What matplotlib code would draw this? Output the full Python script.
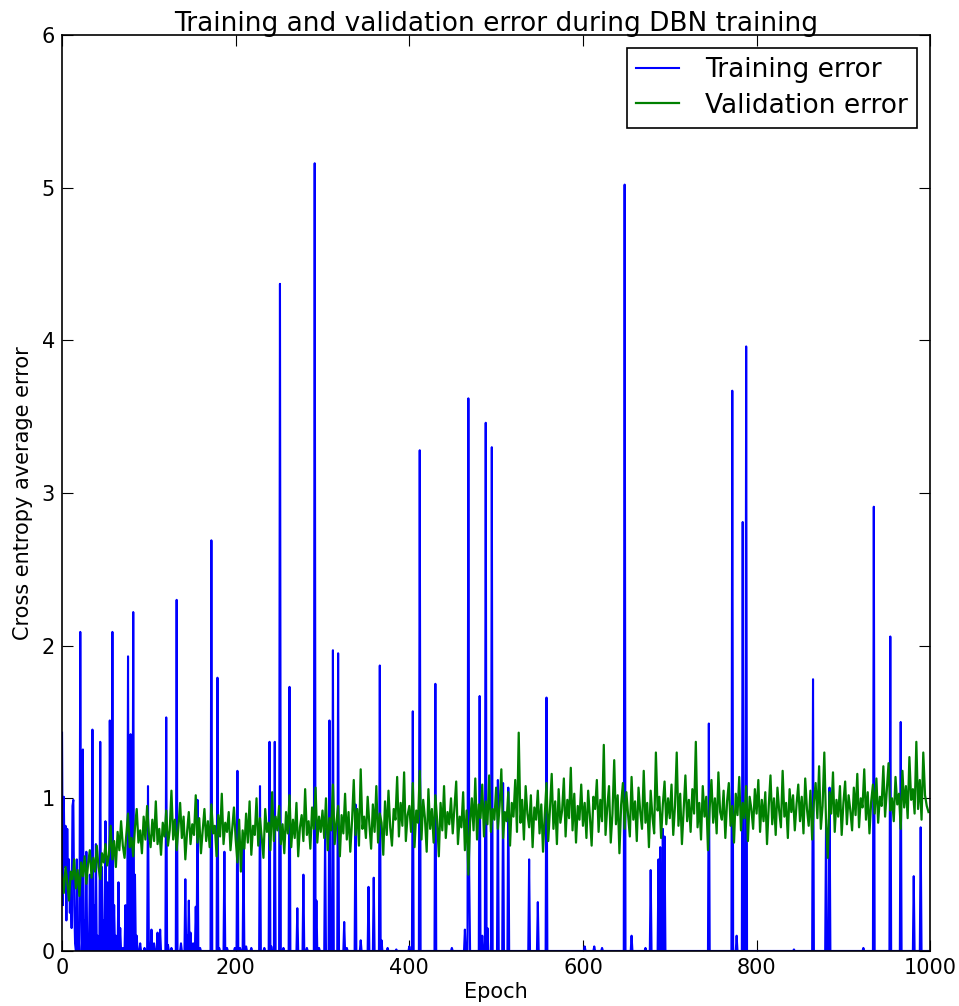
import numpy as np
import matplotlib
matplotlib.use("Agg")
import matplotlib.pyplot as plt

# epochs where the training error is non-zero, and the value there
spike_epochs = [0, 1, 2, 3, 4, 5, 6, 7, 8, 9, 10, 11, 12, 13, 14, 15,
                17, 19, 21, 22, 24, 26, 28, 30, 32, 35, 37, 39, 41, 44, 46, 48,
                50, 52, 55, 56, 58, 60, 62, 65, 67, 70, 73, 76, 79, 82, 84, 86,
                90, 95, 99, 103, 106, 110, 113, 120, 122, 126, 132, 137, 142, 144,
                146, 148, 151, 154, 156, 159, 172, 179, 181, 187, 190, 199, 202,
                205, 209, 212, 218, 228, 233, 239, 241, 245, 251, 255, 262, 271,
                278, 282, 291, 293, 296, 303, 308, 312, 318, 325, 328, 338, 344,
                353, 359, 366, 368, 375, 385, 400, 404, 412, 430, 449, 464, 468,
                469, 481, 484, 488, 490, 495, 502, 508, 514, 538, 548, 558, 602,
                613, 622, 648, 656, 672, 678, 687, 689, 692, 694, 745, 772, 777,
                784, 788, 843, 865, 880, 884, 923, 935, 954, 966, 981, 989]
spike_values = [1.43, 0.30, 1.01, 0.55, 0.82, 0.20, 0.80, 0.40, 0.60, 0.25, 0.50, 0.15, 0.95, 0.99, 0.30, 0.05,
                0.60, 0.10, 2.09, 0.40, 1.32, 0.20, 0.65, 0.05, 0.50, 1.45, 0.30, 0.70, 0.10, 1.37, 0.55, 0.20,
                0.85, 0.45, 1.51, 0.60, 2.09, 0.30, 0.10, 0.45, 0.15, 0.02, 0.30, 1.93, 1.42, 2.22, 0.50, 0.10,
                0.05, 0.02, 1.08, 0.14, 0.05, 0.12, 0.14, 1.53, 0.04, 0.02, 2.30, 0.05, 0.47, 0.10,
                0.33, 0.12, 0.05, 0.29, 0.99, 0.02, 2.69, 1.79, 0.02, 0.65, 0.02, 0.02, 1.18,
                0.02, 0.69, 0.03, 0.02, 1.08, 0.02, 1.37, 0.03, 1.37, 4.37, 0.02, 1.73, 0.28,
                0.50, 0.02, 5.16, 0.33, 0.02, 0.80, 1.51, 1.97, 1.95, 0.19, 0.02, 0.96, 0.07,
                0.42, 0.48, 1.87, 0.07, 0.02, 0.01, 0.03, 1.57, 3.28, 1.75, 0.02, 0.14, 3.62,
                0.50, 1.67, 0.10, 3.46, 0.15, 3.30, 1.12, 1.10, 1.07, 0.60, 0.32, 1.66, 0.03,
                0.03, 0.02, 5.02, 0.10, 0.02, 0.53, 0.60, 0.68, 0.80, 0.75, 1.49, 3.67, 0.10,
                2.81, 3.96, 0.01, 1.78, 0.86, 1.07, 0.02, 2.91, 2.06, 1.50, 0.49, 0.81]

# validation error read every second epoch
val_epochs = np.arange(0, 1000, 2)
val_error = [
    0.50, 0.38, 0.55, 0.45, 0.33, 0.52, 0.47, 0.60, 0.41, 0.53, 0.36, 0.58, 0.49, 0.62, 0.44, 0.57, 0.66, 0.48, 0.61, 0.52, 0.69, 0.55, 0.47, 0.64, 0.58,
    0.70, 0.56, 0.63, 0.82, 0.60, 0.72, 0.55, 0.78, 0.66, 0.85, 0.69, 0.61, 0.76, 0.90, 0.68, 0.74, 0.62, 0.81, 0.93, 0.71, 0.79, 0.64, 0.88, 0.73, 0.95,
    0.77, 0.68, 0.86, 0.72, 0.98, 0.70, 0.80, 0.63, 0.84, 0.75, 0.92, 0.69, 0.79, 1.05, 0.73, 0.86, 0.66, 0.81, 0.97, 0.74, 0.88, 0.60, 0.78, 0.91, 0.70,
    0.83, 0.76, 1.02, 0.71, 0.87, 0.64, 0.79, 0.93, 0.72, 0.85, 0.68, 0.96, 0.77, 0.82, 0.62, 0.89, 0.75, 1.03, 0.70, 0.84, 0.78, 0.91, 0.66, 0.80, 0.94,
    0.73, 0.58, 0.86, 0.52, 0.79, 0.67, 0.90, 0.71, 0.98, 0.63, 0.82, 0.76, 1.00, 0.69, 0.87, 0.74, 0.61, 0.93, 0.78, 0.84, 0.66, 1.04, 0.72, 0.88, 0.79,
    0.95, 0.70, 0.83, 0.64, 0.91, 0.77, 1.02, 0.68, 0.86, 0.74, 0.97, 0.62, 0.81, 0.89, 0.72, 1.06, 0.76, 0.85, 0.67, 0.94, 0.80, 1.07, 0.71, 0.88, 0.78,
    0.92, 0.74, 1.00, 0.66, 0.87, 0.79, 1.09, 0.70, 0.84, 0.95, 0.62, 0.89, 0.77, 1.03, 0.73, 0.91, 0.65, 0.85, 1.12, 0.76, 0.93, 0.69, 1.19, 0.80, 0.88,
    0.74, 1.01, 0.83, 0.67, 0.96, 0.78, 1.08, 0.71, 0.90, 0.84, 0.63, 0.98, 0.76, 1.05, 0.81, 0.69, 0.93, 0.86, 1.14, 0.75, 0.97, 0.82, 1.17, 0.72, 0.89,
    0.95, 0.78, 1.10, 0.68, 0.92, 0.84, 1.18, 0.73, 0.99, 0.87, 0.65, 1.06, 0.80, 0.93, 0.71, 1.02, 0.86, 0.62, 0.97, 0.79, 1.08, 0.74, 0.91, 0.83, 1.00,
    0.77, 0.94, 1.11, 0.70, 0.88, 0.81, 1.04, 0.66, 0.92, 0.50, 0.84, 1.00, 0.79, 1.13, 0.73, 0.96, 0.87, 1.09, 0.75, 0.98, 0.83, 1.15, 0.78, 0.93, 0.86,
    1.07, 0.80, 0.95, 1.19, 0.74, 0.91, 0.85, 1.04, 0.69, 0.97, 0.88, 1.12, 0.78, 1.43, 0.84, 0.99, 0.73, 1.08, 0.90, 0.81, 1.02, 0.68, 0.94, 0.86, 1.05,
    0.77, 0.96, 0.65, 0.89, 1.10, 0.72, 0.93, 1.16, 0.80, 0.98, 0.70, 1.06, 0.84, 0.92, 1.13, 0.75, 0.99, 0.87, 1.20, 0.79, 1.03, 0.71, 0.95, 0.86, 1.09,
    0.82, 0.97, 0.74, 1.05, 0.88, 0.69, 1.01, 0.93, 1.12, 0.78, 0.99, 0.85, 1.35, 0.76, 0.94, 1.08, 0.71, 0.90, 1.25, 0.83, 1.02, 0.64, 0.96, 1.10, 0.80,
    1.04, 0.89, 0.75, 1.14, 0.86, 0.98, 0.72, 1.07, 0.91, 0.80, 1.18, 0.84, 0.97, 0.68, 1.05, 0.88, 0.77, 1.30, 0.92, 1.01, 0.74, 0.96, 1.11, 0.83, 1.00,
    0.87, 1.09, 0.76, 0.95, 1.30, 0.82, 1.03, 0.70, 0.93, 1.15, 0.85, 0.99, 0.78, 1.06, 0.90, 1.37, 0.81, 0.97, 0.73, 1.08, 0.88, 1.01, 0.66, 0.94, 1.12,
    0.84, 1.00, 0.77, 1.17, 0.91, 0.86, 1.05, 0.74, 0.98, 1.10, 0.82, 0.95, 0.71, 1.03, 0.89, 1.14, 0.79, 0.97, 0.87, 1.08, 0.72, 1.01, 0.93, 0.80, 1.06,
    0.90, 1.12, 0.78, 0.99, 0.85, 1.04, 0.70, 0.95, 1.15, 0.83, 1.00, 0.76, 1.07, 0.92, 0.81, 1.18, 0.88, 0.97, 0.74, 1.06, 0.91, 1.02, 0.79, 0.96, 1.09,
    0.85, 1.01, 0.77, 1.13, 0.93, 0.82, 1.05, 0.73, 0.98, 1.10, 0.87, 1.21, 0.80, 0.95, 1.30, 0.84, 0.61, 1.04, 0.90, 1.17, 0.78, 0.99, 0.88, 1.08, 0.76,
    0.97, 1.11, 0.83, 1.02, 0.92, 0.79, 1.07, 0.89, 1.16, 0.81, 1.00, 0.94, 1.19, 0.86, 1.04, 0.77, 0.98, 1.09, 0.90, 1.13, 0.84, 1.01, 0.95, 1.21, 0.88,
    1.06, 1.23, 0.92, 1.00, 0.85, 1.14, 0.96, 1.03, 0.80, 1.18, 0.94, 1.08, 0.87, 1.27, 0.99, 1.06, 0.90, 1.37, 0.93, 1.12, 0.86, 1.30, 1.02, 0.95, 0.91,
]

epochs = np.arange(1000)
train_error = np.zeros(1000)
train_error[spike_epochs] = spike_values

fig = plt.figure(figsize=(9.59, 10.06), dpi=100)
ax = fig.add_axes([0.0647, 0.0547, 0.9053, 0.9105])

ax.plot(epochs, train_error, color=(0, 0, 1), lw=1.5, label="Training error")
ax.plot(val_epochs, val_error, color=(0, 0.5, 0), lw=1.6, label="Validation error")

ax.set_xlim(0, 1000)
ax.set_ylim(0, 6)
ax.set_xticks(np.arange(0, 1001, 200))
ax.set_yticks(np.arange(0, 7, 1))
ax.tick_params(direction="in", top=True, right=True, length=8, labelsize=15, pad=5)
for s in ax.spines.values():
    s.set_linewidth(1.2)

ax.set_title("Training and validation error during DBN training", fontsize=19, pad=3)
ax.set_xlabel("Epoch", fontsize=15, labelpad=3)
ax.set_ylabel("Cross entropy average error", fontsize=15, labelpad=6)

leg = ax.legend(loc="upper right", fontsize=19, fancybox=False, framealpha=1,
                edgecolor="black", borderaxespad=0.5, handlelength=1.6,
                handletextpad=1.0, labelspacing=0.35, borderpad=0.35)
leg.get_frame().set_linewidth(1.2)

fig.savefig("out.png", dpi=100)
